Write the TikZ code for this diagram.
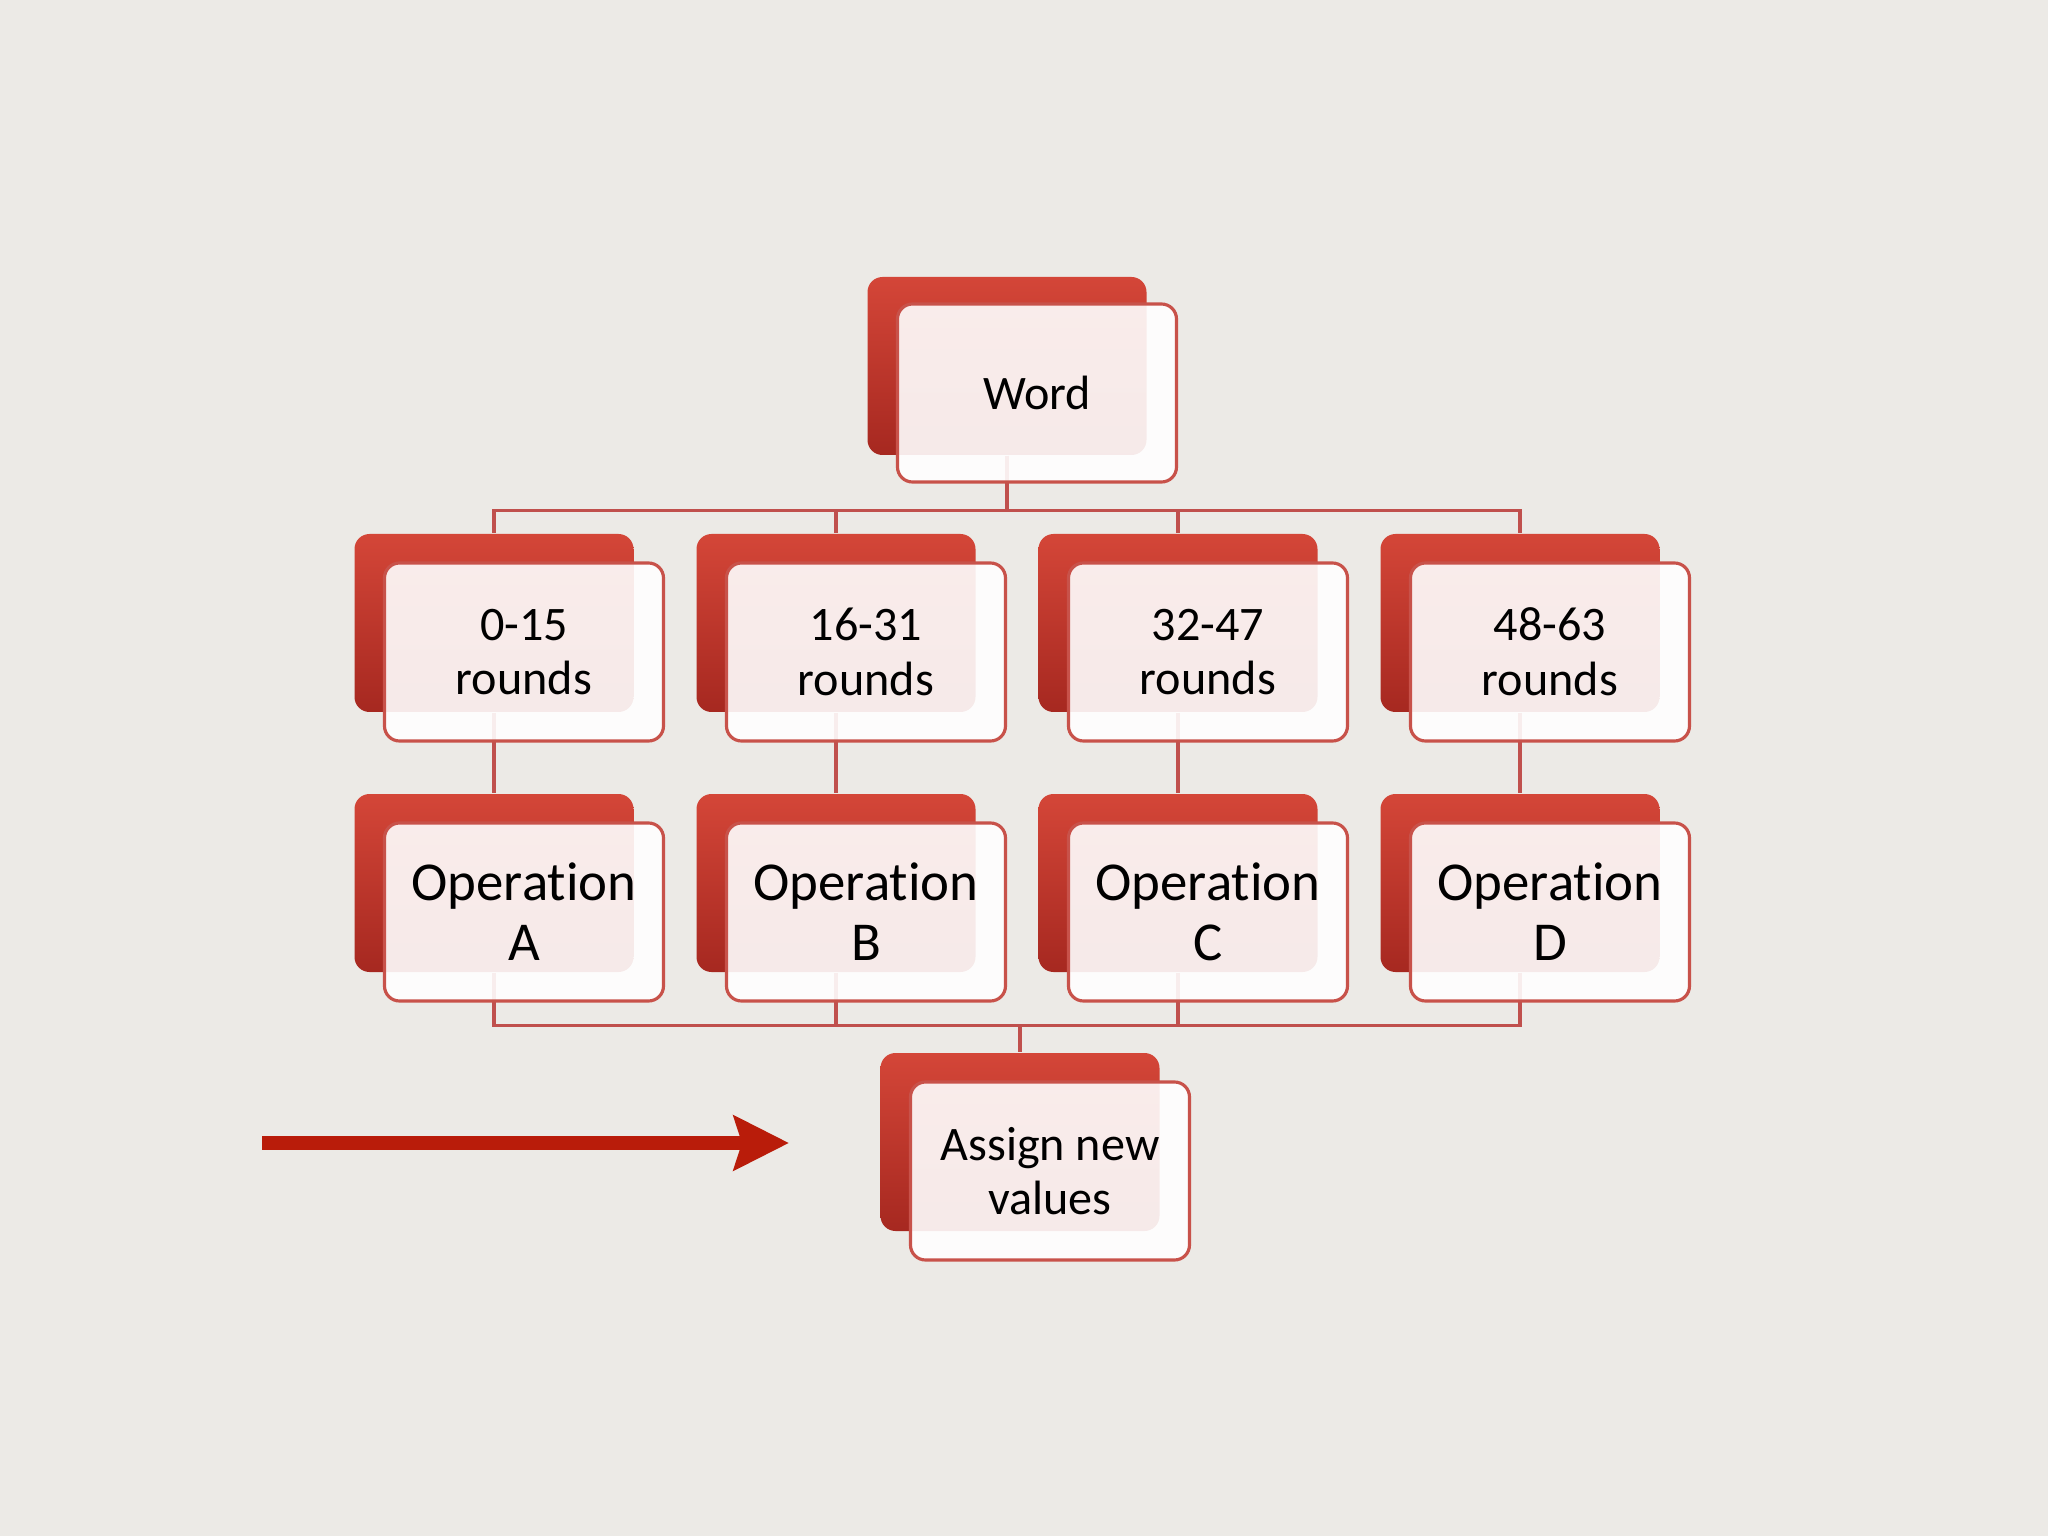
\documentclass[tikz,border=0pt]{standalone}
\usepackage{fontspec}
\setmainfont{Carlito}[Ligatures=NoCommon]
\usetikzlibrary{arrows.meta}
\definecolor{paper}{RGB}{236,234,230}
\definecolor{boxred}{RGB}{212,70,56}
\definecolor{boxdark}{RGB}{166,40,32}
\definecolor{edgered}{RGB}{200,82,74}
\definecolor{linkred}{RGB}{192,80,77}
\definecolor{arrowred}{RGB}{185,28,10}
\tikzset{
	back/.style={rounded corners=1.5mm, minimum width=2.79cm, minimum height=1.78cm, inner sep=0pt, top color=boxred, bottom color=boxdark},
	front/.style={draw=edgered, line width=0.9pt, rounded corners=1.5mm, minimum width=2.79cm, minimum height=1.78cm, inner sep=0pt, fill=white, fill opacity=0.9, text opacity=1, align=center, font=\fontsize{13.7}{15.6}\selectfont},
	bigtext/.style={font=\fontsize{15.6}{17}\selectfont},
	link/.style={draw=linkred, line width=1pt},
}
\begin{document}
\begin{tikzpicture}
	\fill [paper] (0, 0) rectangle (20.48, -15.36);
	\node [back] (wordback) at (10.07, -3.66) {};
	\foreach \x/\i in {4.94/1, 8.36/2, 11.78/3, 15.20/4} {
		\node [back] (rngback\i) at (\x, -6.23) {};
		\node [back] (opback\i) at (\x, -8.83) {};
	}
	\node [back] (newback) at (10.20, -11.42) {};
	\foreach \i in {1, ..., 4} {
		\draw [link] (wordback.south) -- ++(0, -0.55) -| (rngback\i.north);
		\draw [link] (rngback\i.south) -- (opback\i.north);
		\draw [link] (opback\i.south) -- ++(0, -0.53) -| (newback.north);
	}
	\node [front] (word) at (10.37, -3.93) {Word};
	\foreach \x/\i/\rounds/\letter in {4.94/1/0-15/A, 8.36/2/16-31/B, 11.78/3/32-47/C, 15.20/4/48-63/D} {
		\node [front] (rng\i) at (\x + 0.30, -6.52) {\rounds\\rounds};
		\node [front, bigtext] (op\i) at (\x + 0.30, -9.12) {Operation\\\letter};
	}
	\node [front, font=\fontsize{13.7}{15.2}\selectfont] (new) at (10.50, -11.71) {Assign new\\values};
	\coordinate (tail) at (2.62, -11.43);
	\coordinate (tip) at (7.89, -11.43);
	\draw [arrowred, line width=0.14cm, -{Stealth[length=0.55cm, width=0.54cm, inset=0.08cm]}] (tail) -- (tip);
\end{tikzpicture}
\end{document}
